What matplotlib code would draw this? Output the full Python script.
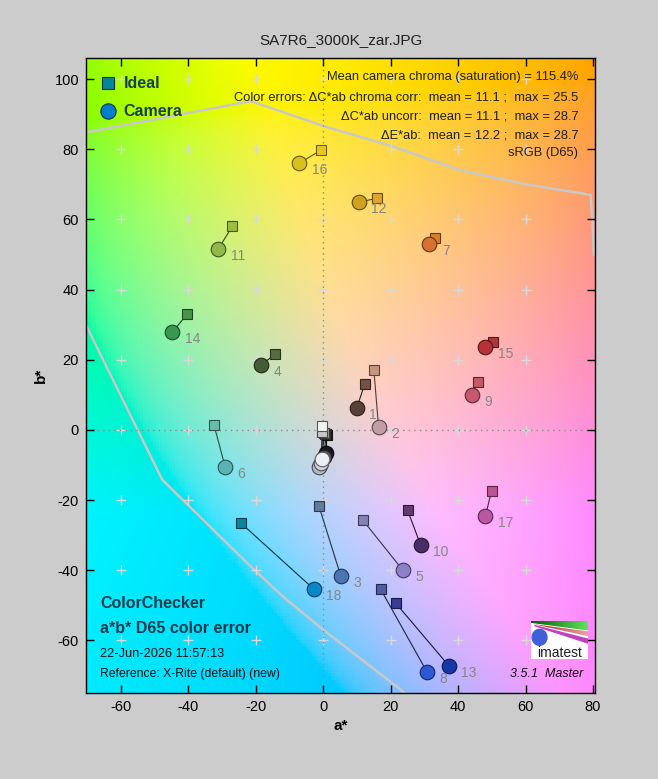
import numpy as np
import matplotlib
matplotlib.use("Agg")
import matplotlib.pyplot as plt
from matplotlib.patches import Polygon, Ellipse, Rectangle
from matplotlib import colors as mcolors

plt.rcParams['font.family'] = ['Liberation Sans', 'DejaVu Sans']
plt.rcParams['axes.unicode_minus'] = False

# ColorChecker patch data (a*, b*)
patch_ids = [str(i) for i in range(1, 19)]
ideal_a = [12.3, 15.0, -1.3, -14.3, 11.7, -32.4, 33.0, 17.0, 46.0, 25.0, -27.0, 15.9, 21.5, -40.4, 50.2, -0.7, 49.9, -24.4]
ideal_b = [13.1, 17.0, -21.7, 21.6, -25.7, 1.3, 54.6, -45.4, 13.6, -22.9, 58.0, 66.0, -49.4, 33.0, 25.0, 79.7, -17.5, -26.6]
cam_a = [9.9, 16.4, 5.2, -18.5, 23.6, -29.1, 31.5, 30.7, 44.0, 28.9, -31.2, 10.5, 37.2, -44.8, 48.1, -7.2, 48.1, -2.8]
cam_b = [6.2, 0.8, -41.7, 18.4, -40.0, -10.6, 52.9, -68.9, 10.0, -32.9, 51.5, 64.9, -67.2, 27.8, 23.6, 76.0, -24.5, -45.4]
ideal_colors = ['#735244', '#c29682', '#627a9d', '#576c43', '#8580b1', '#67bdaa', '#d67e2c', '#505ba6', '#c15a63',
                '#5e3c6c', '#9dbc40', '#e0a32e', '#383d96', '#469449', '#af363c', '#e7c71f', '#bb5695', '#0885a1']
cam_colors = ['#584038', '#c09ea4', '#4a74b4', '#445c34', '#8c80c8', '#58b4b4', '#d87030', '#2c58d8', '#c85870',
              '#4a2c68', '#90b84c', '#d0a020', '#1438a8', '#389850', '#b83038', '#d8c020', '#b858a0', '#0888c8']

# gray patches 19-24
gray_ideal_a = [-0.4, -0.3, 0.2, 0.5, 0.8, 1.0]
gray_ideal_b = [1.2, -0.6, -0.9, -1.1, -1.2, -1.4]
gray_cam_a = [-0.3, -0.8, -1.3, -1.0, 0.2, 0.9]
gray_cam_b = [-8.4, -9.5, -10.6, -10.0, -7.8, -6.6]
gray_ideal_colors = ['#f3f3f2', '#c8c8c8', '#a0a0a0', '#7a7a79', '#555555', '#343434']
gray_cam_colors = ['#eceff6', '#cfd3de', '#b4b8c6', '#9aa0b0', '#505058', '#181820']

# sRGB gamut outline
gamut_top_a = [-72, -21.5, 2, 20, 40.7, 60, 79.3, 79.8, 80.3]
gamut_top_b = [84.5, 93.7, 86, 81, 74, 70, 67, 60, 50]
gamut_left_a = [-72, -47.8, -30.4, -19.9, -12.0, 0, 22.9, 25]
gamut_left_b = [33, -14.2, -30.6, -40.4, -47.5, -57, -74, -76]

stats_lines = ["Mean camera chroma (saturation) = 115.4%",
               "Color errors: \u0394C*ab chroma corr:  mean = 11.1 ;  max = 25.5",
               "\u0394C*ab uncorr:  mean = 11.1 ;  max = 28.7",
               "\u0394E*ab:  mean = 12.2 ;  max = 28.7",
               "sRGB (D65)"]


def lab_to_srgb(L, a, b):
    fy = (L + 16) / 116.0
    fx = fy + a / 500.0
    fz = fy - b / 200.0
    d = 6 / 29.0

    def finv(t):
        return np.where(t > d, t ** 3, 3 * d * d * (t - 4 / 29.0))
    X = 0.95047 * finv(fx)
    Y = finv(fy)
    Z = 1.08883 * finv(fz)
    r = 3.2406 * X - 1.5372 * Y - 0.4986 * Z
    g = -0.9689 * X + 1.8758 * Y + 0.0415 * Z
    bb = 0.0557 * X - 0.2040 * Y + 1.0570 * Z
    rgb = np.clip(np.stack([r, g, bb], axis=-1), 0, 1)
    return np.where(rgb <= 0.0031308, 12.92 * rgb, 1.055 * rgb ** (1 / 2.4) - 0.055)


def darker(c, f=0.45):
    r, g, b = mcolors.to_rgb(c)
    return (r * f, g * f, b * f)


xlim = (-70.4, 80.6)
ylim = (-75, 106)

fig = plt.figure(figsize=(6.58, 7.79), dpi=100, facecolor='#cccccc')
ax = fig.add_axes([86 / 658, 1 - 693 / 779, 509 / 658, 635 / 779])

# background colour map (lightness a bit higher towards yellow)
ga = np.linspace(xlim[0], xlim[1], 160)
gb = np.linspace(ylim[0], ylim[1], 190)
A, B = np.meshgrid(ga, gb)
bg = lab_to_srgb(86.0 + 0.09 * B, A, B)
ax.imshow(bg, origin='lower', extent=[xlim[0], xlim[1], ylim[0], ylim[1]], aspect='auto',
          interpolation='nearest', zorder=0)

ax.plot(gamut_top_a, gamut_top_b, color='#c8c8c8', lw=1.8, zorder=1)
ax.plot(gamut_left_a, gamut_left_b, color='#c8c8c8', lw=1.8, zorder=1)

# grid crosses and zero lines
gx, gy = np.meshgrid(np.arange(-60, 61, 20), np.arange(-60, 101, 20))
ax.plot(gx.ravel(), gy.ravel(), '+', color='#d9d9d9', ms=7, mew=1, zorder=1)
ax.axhline(0, color='#8c8c8c', ls=(0, (1, 3)), lw=1, zorder=1)
ax.axvline(0, color='#8c8c8c', ls=(0, (1, 3)), lw=1, zorder=1)

# gray patches (no labels), dark first
for i in range(5, -1, -1):
    ax.plot([gray_ideal_a[i], gray_cam_a[i]], [gray_ideal_b[i], gray_cam_b[i]],
            color=darker(gray_ideal_colors[i], 0.3), lw=0.8, zorder=2)
    ax.plot(gray_ideal_a[i], gray_ideal_b[i], 's', ms=6.5, mfc=gray_ideal_colors[i],
            mec=darker(gray_ideal_colors[i], 0.35), mew=0.8, zorder=3)
for i in range(5, -1, -1):
    ax.plot(gray_cam_a[i], gray_cam_b[i], 'o', ms=10.5, mfc=gray_cam_colors[i],
            mec=darker(gray_cam_colors[i], 0.4), mew=0.8, zorder=4)

for i in range(len(patch_ids)):
    ax.plot([ideal_a[i], cam_a[i]], [ideal_b[i], cam_b[i]], color=darker(ideal_colors[i], 0.4),
            lw=0.8, zorder=2)
    ax.plot(ideal_a[i], ideal_b[i], 's', ms=6.5, mfc=ideal_colors[i], mec=darker(ideal_colors[i]),
            mew=0.8, zorder=3)
    ax.plot(cam_a[i], cam_b[i], 'o', ms=10.5, mfc=cam_colors[i], mec=darker(cam_colors[i]),
            mew=0.8, zorder=4)
    ax.annotate(patch_ids[i], (cam_a[i], cam_b[i]), xytext=(9, -5), textcoords='offset points',
                ha='left', va='center', fontsize=10, color='#858585', zorder=5)

# legend
ax.plot(-64, 98.8, 's', ms=8, mfc='#00879c', mec='#103040', mew=0.8)
ax.plot(-64, 90.8, 'o', ms=11, mfc='#0080cc', mec='#103040', mew=0.8)
ax.text(-59.2, 98.8, "Ideal", fontsize=11.5, fontweight='bold', color='#1a4050', va='center')
ax.text(-59.2, 90.8, "Camera", fontsize=11.5, fontweight='bold', color='#1a4050', va='center')

# statistics text
stat_y = [100.5, 94.7, 89.3, 83.9, 78.8]
for s, yy in zip(stats_lines, stat_y):
    ax.text(75.6, yy, s, fontsize=9.3, ha='right', va='center', color='#202020')

# bottom-left text block
ax.text(-66.1, -49.6, "ColorChecker", fontsize=11.5, fontweight='bold', color='#1a3a4a', va='center')
ax.text(-66.1, -56.7, "a*b* D65 color error", fontsize=11.5, fontweight='bold', color='#1a3a4a', va='center')
ax.text(-66.1, -63.8, "22-Jun-2026 11:57:13", fontsize=9.2, color='#101010', va='center')
ax.text(-66.1, -69.5, "Reference: X-Rite (default) (new)", fontsize=8.8, color='#101010', va='center')
ax.text(77.0, -69.5, "3.5.1  Master", fontsize=9, style='italic', color='#101010', va='center', ha='right')

ax.set_xlim(xlim)
ax.set_ylim(ylim)
ax.set_xticks(np.arange(-60, 81, 20))
ax.set_yticks(np.arange(-60, 101, 20))
ax.tick_params(direction='in', length=6, width=1, top=True, right=True, labelsize=10.5,
               colors='black', pad=5)
for sp in ax.spines.values():
    sp.set_linewidth(1)
ax.set_xlabel("a*", fontsize=11, fontweight='bold', labelpad=4)
ax.set_ylabel("b*", fontsize=11, fontweight='bold', labelpad=5)
ax.set_title("SA7R6_3000K_zar.JPG", fontsize=11, color='#202020', pad=10)

# imatest logo
lax = fig.add_axes([531 / 658, 1 - 659 / 779, 57 / 658, 38 / 779])
lax.axis('off')
lax.add_patch(Rectangle((0, 0), 1, 1, color='white', zorder=0))
grad = np.linspace(0, 1, 50)[None, :]
gimg = lax.imshow(grad, cmap=mcolors.LinearSegmentedColormap.from_list('g', ['#006000', '#60e060']),
                  extent=[0, 1, 0.7, 1], aspect='auto', zorder=1)
rimg = lax.imshow(grad, cmap=mcolors.LinearSegmentedColormap.from_list('r', ['#b02020', '#f0a0a0']),
                  extent=[0, 1, 0.55, 0.95], aspect='auto', zorder=1)
lax.set_xlim(0, 1)
lax.set_ylim(0, 1)
gimg.set_clip_path(Polygon([(0, 1), (1, 1), (1, 0.75), (0, 0.95)], transform=lax.transData))
rimg.set_clip_path(Polygon([(0.03, 0.92), (1, 0.73), (1, 0.6)], transform=lax.transData))
lax.add_patch(Polygon([(0.06, 0.88), (1, 0.52), (1, 0.42)], color='#c040c0', zorder=2))
lax.add_patch(Ellipse((0.15, 0.57), 0.26, 0.42, color='#4060d8', zorder=3))
lax.text(0.5, 0.16, "imatest", fontsize=10, ha='center', va='center', color='#202020', zorder=4)

fig.savefig('out.png', dpi=100, facecolor=fig.get_facecolor())
